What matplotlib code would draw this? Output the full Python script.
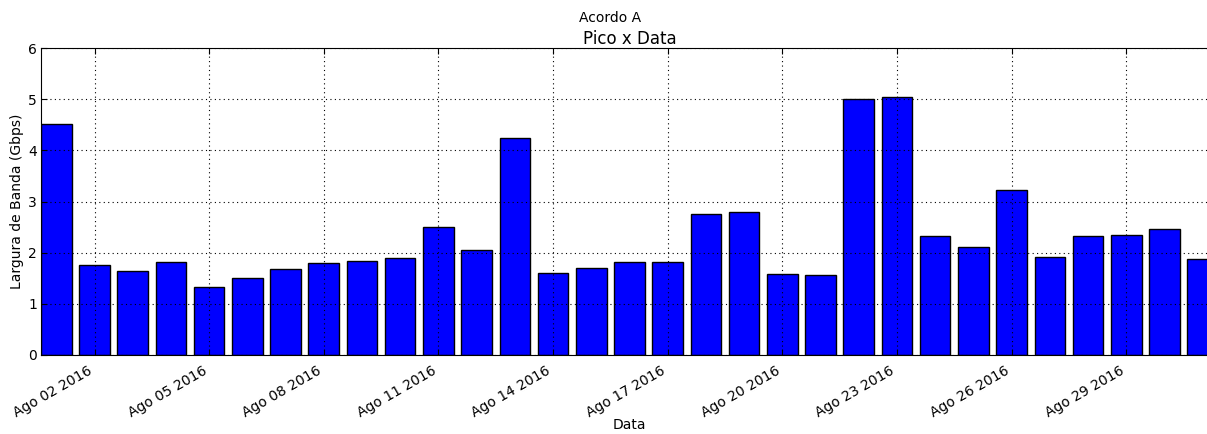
import pandas as pd
import numpy as np
import matplotlib
matplotlib.use('Agg')
import matplotlib.pyplot as plt
import matplotlib.dates as mdates
from matplotlib.ticker import FuncFormatter

# daily peak bandwidth, August 2016
dias = pd.date_range('2016-08-01', '2016-08-31', freq='D')
pico = [4.51, 1.76, 1.65, 1.81, 1.33, 1.51, 1.68, 1.80, 1.83, 1.89,
        2.50, 2.05, 4.25, 1.61, 1.70, 1.81, 1.82, 2.76, 2.80, 1.59,
        1.57, 5.00, 5.05, 2.33, 2.11, 3.23, 1.91, 2.33, 2.35, 2.47,
        1.88]
meses = ['Jan', 'Fev', 'Mar', 'Abr', 'Mai', 'Jun',
         'Jul', 'Ago', 'Set', 'Out', 'Nov', 'Dez']

fig = plt.figure(figsize=(12.07, 4.34), dpi=100)
ax = fig.add_axes([41.0 / 1207, 79.0 / 434, 1177.0 / 1207, 307.0 / 434])

x = mdates.date2num(dias.to_pydatetime())
ax.bar(x, pico, width=0.8, align='center', color='blue',
       edgecolor='black', linewidth=1.0, zorder=2)

ax.set_xlim(x[0] - 0.4, x[-1] + 0.4)
ax.set_ylim(0, 6)
ax.set_yticks(range(0, 7))


def fmt_data(v, pos=None):
    d = mdates.num2date(v)
    return '%s %02d %d' % (meses[d.month - 1], d.day, d.year)


ax.xaxis.set_major_locator(mdates.DayLocator(bymonthday=range(2, 32, 3)))
ax.xaxis.set_major_formatter(FuncFormatter(fmt_data))
plt.setp(ax.get_xticklabels(), rotation=30, ha='right', fontsize=10)
plt.setp(ax.get_yticklabels(), fontsize=10)

ax.tick_params(direction='in', top=True, right=True, length=4)
ax.tick_params(axis='x', pad=6)
ax.tick_params(axis='y', pad=3)
ax.grid(True, color='black', linestyle=(0, (1, 3)), linewidth=0.8, zorder=1)
ax.set_axisbelow(False)

ax.set_xlabel('Data', fontsize=10, labelpad=-1)
ax.set_ylabel('Largura de Banda (Gbps)', fontsize=10, labelpad=3)
ax.set_title('Pico x Data', fontsize=12, pad=3)
fig.text(610.0 / 1207, 1 - 18.0 / 434, 'Acordo A', ha='center', va='center', fontsize=10)

plt.savefig('out.png', dpi=100)
